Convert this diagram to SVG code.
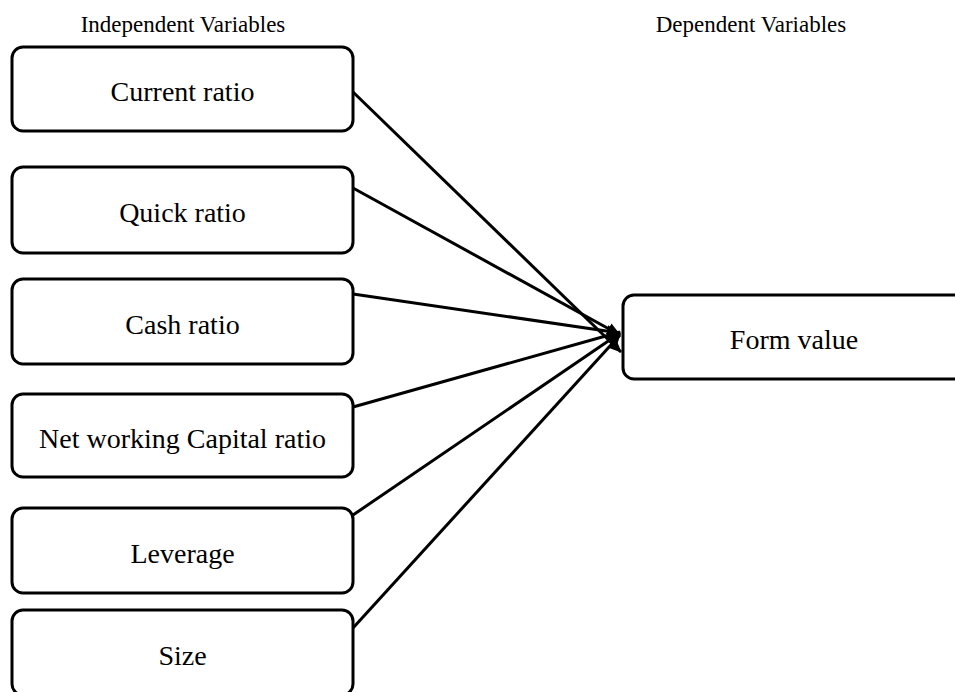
<svg xmlns="http://www.w3.org/2000/svg" width="955" height="692" viewBox="0 0 955 692">
<style>
.box{fill:#fff;stroke:#000;stroke-width:3}
.t{font-family:"Liberation Serif","Times New Roman",serif;font-size:28px;fill:#000;text-anchor:middle}
.h{font-family:"Liberation Serif","Times New Roman",serif;font-size:23px;fill:#000;text-anchor:middle}
.c{stroke:#000;stroke-width:3;fill:none;marker-end:url(#arr)}
</style>
<defs>
<marker id="arr" markerUnits="userSpaceOnUse" markerWidth="14" markerHeight="12" viewBox="0 0 14 12" refX="13" refY="6" orient="auto">
<path d="M0,0 L14,6 L0,12 z" fill="#000"/>
</marker>
</defs>
<rect width="955" height="692" fill="#fff"/>
<text class="h" x="183" y="32">Independent Variables</text>
<text class="h" x="751" y="32">Dependent Variables</text>
<g id="connectors">
<line class="c" x1="353" y1="92" x2="621" y2="352"/>
<line class="c" x1="353" y1="188" x2="620" y2="335"/>
<line class="c" x1="353" y1="294" x2="620" y2="333"/>
<line class="c" x1="353" y1="407" x2="620" y2="332"/>
<line class="c" x1="353" y1="515" x2="620" y2="333"/>
<line class="c" x1="353" y1="628" x2="620" y2="335"/>
</g>
<g id="n1"><rect class="box" x="12" y="47" width="341" height="84" rx="11"/><text class="t" x="182.5" y="101">Current ratio</text></g>
<g id="n2"><rect class="box" x="12" y="167" width="341" height="86" rx="11"/><text class="t" x="182.5" y="222">Quick ratio</text></g>
<g id="n3"><rect class="box" x="12" y="279" width="341" height="85" rx="11"/><text class="t" x="182.5" y="334">Cash ratio</text></g>
<g id="n4"><rect class="box" x="12" y="394" width="341" height="83" rx="11"/><text class="t" x="182.5" y="448">Net working Capital ratio</text></g>
<g id="n5"><rect class="box" x="12" y="508" width="341" height="85" rx="11"/><text class="t" x="182.5" y="563">Leverage</text></g>
<g id="n6"><rect class="box" x="12" y="610" width="341" height="85" rx="11"/><text class="t" x="182.5" y="665">Size</text></g>
<g id="n7"><rect class="box" x="623" y="295" width="345" height="84" rx="11"/><text class="t" x="794" y="349">Form value</text></g>
</svg>
